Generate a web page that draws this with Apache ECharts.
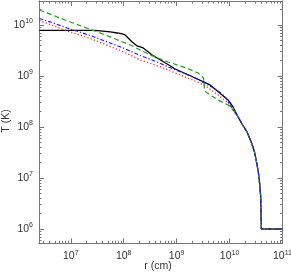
<!DOCTYPE html>
<html>
<head>
<meta charset="utf-8">
<script src="https://cdn.jsdelivr.net/npm/echarts@6/dist/echarts.min.js"></script>
<style>
html,body{margin:0;padding:0;background:#fff;}
#c{width:291px;height:272px;}
</style>
</head>
<body>
<div id="c"></div>
<script>
// ---- data (log10 of r [cm] and log10 of T [K]) ----
const blackLogR = [6.406, 7.462, 7.745, 7.877, 7.953, 8.028, 8.16, 8.255, 8.311, 8.368, 8.538, 8.726, 8.915, 8.953, 9.311, 9.632, 9.972, 10.066];
const blackLogT = [9.896, 9.896, 9.863, 9.843, 9.83, 9.804, 9.667, 9.588, 9.569, 9.549, 9.412, 9.294, 9.176, 9.147, 8.98, 8.824, 8.53, 8.392];

const greenLogR = [6.406, 6.99, 7.557, 8.123, 8.5, 8.84, 9.18, 9.406, 9.509, 9.528, 9.632, 9.783, 9.972, 10.066];
const greenLogT = [10.294, 10.059, 9.843, 9.608, 9.412, 9.275, 9.157, 9.059, 8.961, 8.706, 8.627, 8.529, 8.431, 8.333];

const blueLogR = [6.406, 6.67, 6.934, 7.368, 7.991, 8.311, 8.632, 8.934, 9.311, 9.594, 9.764, 9.915, 10.009, 10.104];
const blueLogT = [10.127, 10.039, 9.941, 9.794, 9.549, 9.402, 9.275, 9.137, 8.98, 8.824, 8.725, 8.594, 8.431, 8.275];

const redLogR = [6.406, 6.934, 7.368, 7.991, 8.311, 8.689, 9.066, 9.381, 9.57, 9.821, 9.947, 10.066];
const redLogT = [10.088, 9.882, 9.735, 9.476, 9.314, 9.182, 9.02, 8.888, 8.79, 8.594, 8.496, 8.373];

// common outer part shared by all models
const tailLogR = [10.142, 10.236, 10.33, 10.419, 10.472, 10.513, 10.543, 10.562, 10.589, 10.594, 10.600, 11.0];
const tailLogT = [8.235, 8.059, 7.902, 7.68, 7.51, 7.29, 7.118, 6.96, 6.63, 6.31, 6.0, 6.0];

// axes (log10 space)
const rMin = 6.4, rMax = 11;
const tMin = 5.72, tMax = 10.47;
const majorR = [7, 8, 9, 10, 11];
const majorT = [6, 7, 8, 9, 10];
const minorMult = [2, 3, 4, 5, 6, 7, 8, 9];
const xTitle = 'r (cm)';
const yTitle = 'T (K)';

function minors(lo, hi) {
  const out = [];
  for (let e = Math.floor(lo); e <= Math.ceil(hi); e++) {
    minorMult.forEach(k => { const v = e + Math.log10(k); if (v > lo && v < hi) out.push(v); });
  }
  return out;
}
const minorR = minors(rMin, rMax);
const minorT = minors(tMin, tMax);

function toPts(lr, lt) {
  return lr.map((x, i) => [x, lt[i]]);
}

const AX = '#777';
const TXT = '#333';
const FONT = 'Liberation Sans';
const fmt = v => '10{s|' + Math.round(v) + '}';
const rich = { s: { fontSize: 7, fontFamily: FONT, color: TXT, padding: [0, 0, 7, 0] } };

function ax(pos, min, max, ticks, len, label) {
  return {
    type: 'value', position: pos, min: min, max: max, scale: true,
    axisLine: { show: true, onZero: false, lineStyle: { color: AX, width: 1 } },
    axisTick: { show: true, inside: true, length: len, customValues: ticks, lineStyle: { color: AX, width: 1 } },
    axisLabel: label ? { show: true, customValues: ticks, formatter: fmt, rich: rich, color: TXT, fontSize: 10.5, fontFamily: FONT, margin: 6 } : { show: false },
    splitLine: { show: false }, minorTick: { show: false }, minorSplitLine: { show: false }
  };
}

const chart = echarts.init(document.getElementById('c'), null, { renderer: 'canvas' });
function line(pts, color, type, w) {
  return { type: 'line', xAxisIndex: 0, yAxisIndex: 0, data: pts, showSymbol: false, symbol: 'none',
    lineStyle: { color: color, width: w, type: type }, silent: true, animation: false, clip: true };
}
chart.setOption({
  backgroundColor: '#fff',
  animation: false,
  grid: { left: 39, top: 1, width: 243.5, height: 242.3, containLabel: false, outerBoundsMode: 'none' },
  xAxis: [
    ax('bottom', rMin, rMax, majorR, 5, true),
    ax('bottom', rMin, rMax, minorR, 2.5, false),
    ax('top', rMin, rMax, majorR, 5, false),
    ax('top', rMin, rMax, minorR, 2.5, false)
  ],
  yAxis: [
    ax('left', tMin, tMax, majorT, 5, true),
    ax('left', tMin, tMax, minorT, 2.5, false),
    ax('right', tMin, tMax, majorT, 5, false),
    ax('right', tMin, tMax, minorT, 2.5, false)
  ],
  graphic: [
    { type: 'text', x: 158, y: 266, silent: true,
      style: { text: xTitle, fill: TXT, fontSize: 10.5, fontFamily: FONT, textAlign: 'center', textVerticalAlign: 'middle' } },
    { type: 'text', x: 6, y: 121, rotation: Math.PI / 2, silent: true,
      style: { text: yTitle, fill: TXT, fontSize: 10.5, fontFamily: FONT, textAlign: 'center', textVerticalAlign: 'middle' } }
  ],
  series: [
    line(toPts(blackLogR.concat(tailLogR), blackLogT.concat(tailLogT)), '#000', 'solid', 1.3),
    line(toPts(redLogR.concat(tailLogR), redLogT.concat(tailLogT)), '#f03030', [1.2, 2.2], 1.3),
    line(toPts(greenLogR.concat(tailLogR), greenLogT.concat(tailLogT)), '#22a022', [5, 3], 1.2),
    line(toPts(blueLogR.concat(tailLogR), blueLogT.concat(tailLogT)), '#2020e8', [4, 2, 1.2, 2], 1.2)
  ]
});
</script>
</body>
</html>
